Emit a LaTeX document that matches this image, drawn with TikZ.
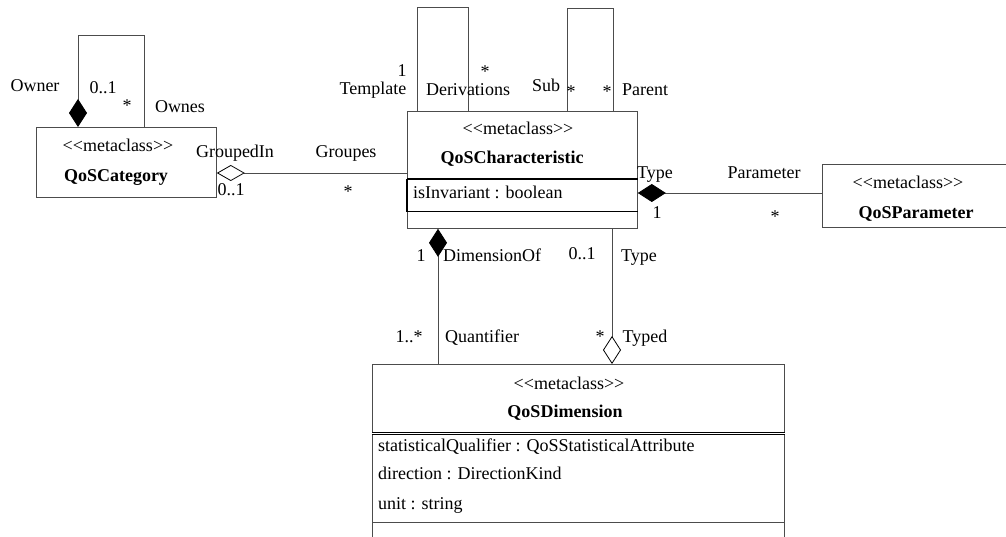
\documentclass[tikz,border=0pt]{standalone}
\usepackage{fontspec}
\setmainfont{Liberation Serif}
\usepackage{tikz}
\usetikzlibrary{arrows.meta,calc}

\definecolor{linegray}{gray}{0.3}
\newcommand{\umlfont}{\fontsize{18}{20}\selectfont}
\newcommand{\stereo}[1]{<\kern0pt<#1>\kern0pt>}

\tikzset{
  classbox/.style={draw=linegray, line width=0.8pt, anchor=north west, inner sep=0pt},
  lbl/.style={font=\umlfont, inner sep=0pt, text height=1.5ex, text depth=.25ex, yshift=-3.5pt},
  assoc/.style={draw=linegray, line width=0.8pt},
  compstart/.style={arrows={Diamond[length=28pt,width=18pt,color=black]-}},
  compend/.style={arrows={-Diamond[length=28pt,width=18pt,color=black]}},
  aggrstart/.style={arrows={Diamond[open,length=28pt,width=16pt,color=black]-}},
  aggrend/.style={arrows={-Diamond[open,length=28pt,width=18pt,color=black]}},
}

\begin{document}
\begin{tikzpicture}[x=1pt,y=-1pt]
      \useasboundingbox (0,0) rectangle (1006,537);
      \clip (0,0) rectangle (1006,537);

      % classes
      \node[classbox, minimum width=180pt, minimum height=70pt] (cat) at (36,127) {};
      \node[classbox, minimum width=230pt, minimum height=117pt] (char) at (407,111) {};
      \node[classbox, minimum width=220pt, minimum height=63pt] (par) at (822,164) {};
      \node[classbox, minimum width=412pt, minimum height=200pt] (dim) at (372,364) {};

      \node[lbl] (catst) at (118,145) {\stereo{metaclass}};
      \node[lbl, font=\umlfont\bfseries] (catnm) at (116,175) {QoSCategory};
      \node[lbl] (charst) at (518,128) {\stereo{metaclass}};
      \node[lbl, font=\umlfont\bfseries] (charnm) at (512,157) {QoSCharacteristic};
      \node[lbl, anchor=west] (charat) at (413,192) {isInvariant : boolean};
      \node[lbl] (parst) at (908,182) {\stereo{metaclass}};
      \node[lbl, font=\umlfont\bfseries] (parnm) at (916,212) {QoSParameter};
      \node[lbl] (dimst) at (569,383) {\stereo{metaclass}};
      \node[lbl, font=\umlfont\bfseries] (dimnm) at (565,411) {QoSDimension};
      \node[lbl, anchor=west] (dimat1) at (378,445) {statisticalQualifier : QoSStatisticalAttribute};
      \node[lbl, anchor=west] (dimat2) at (378,473) {direction : DirectionKind};
      \node[lbl, anchor=west] (dimat3) at (378,503) {unit : string};

      % compartments
      \draw[line width=1.6pt] (char.west |- 0,179) -- (char.east |- 0,179);
      \draw[line width=1pt] (char.west |- 0,212) -- (char.east |- 0,212);
      \draw[line width=1.4pt] (char.west |- 0,179) -- (char.west |- 0,212);
      \draw[draw=black, line width=0.6pt, double, double distance=1.8pt] (dim.west |- 0,433.5) -- (dim.east |- 0,433.5);
      \draw[assoc] (dim.west |- 0,522) -- (dim.east |- 0,522);

      % self associations
      \coordinate (ownloop) at (78,35);
      \coordinate (derloop) at (417,7);
      \coordinate (subloop) at (567,8);
      \draw[assoc, compend] (cat.north -| 144,0) |- (ownloop) -- (cat.north -| 78,0);
      \draw[assoc] (char.north -| 468,0) |- (derloop) -- (char.north -| 417,0);
      \draw[assoc] (char.north -| 613,0) |- (subloop) -- (char.north -| 567,0);

      % associations
      \draw[assoc, aggrstart] (cat.east |- 0,173) -- (char.west |- 0,173);
      \draw[assoc, compstart] (char.east |- 0,193) -- (par.west |- 0,193);
      \draw[assoc, compstart] (char.south -| 438,0) -- (dim.north -| 438,0);
      \draw[assoc, aggrend] (char.south -| 612,0) -- (dim.north -| 612,0);

      % role names and multiplicities
      \node[lbl] (l1) at (35,85) {Owner};
      \node[lbl] (l2) at (103,87) {0..1};
      \node[lbl] (l3) at (127,105) {*};
      \node[lbl] (l4) at (180,106) {Ownes};
      \node[lbl] (l5) at (235,151) {GroupedIn};
      \node[lbl] (l6) at (346,151) {Groupes};
      \node[lbl] (l7) at (231,189) {0..1};
      \node[lbl] (l8) at (348,191) {*};
      \node[lbl] (l9) at (402,70) {1};
      \node[lbl] (l10) at (373,88) {Template};
      \node[lbl] (l11) at (485,71) {*};
      \node[lbl] (l12) at (468,89) {Derivations};
      \node[lbl] (l13) at (546,85) {Sub};
      \node[lbl] (l14) at (571,91) {*};
      \node[lbl] (l15) at (607,91) {*};
      \node[lbl] (l16) at (645,89) {Parent};
      \node[lbl] (l17) at (655,172) {Type};
      \node[lbl] (l18) at (764,172) {Parameter};
      \node[lbl] (l19) at (657,212) {1};
      \node[lbl] (l20) at (775,216) {*};
      \node[lbl] (l21) at (421,255) {1};
      \node[lbl] (l22) at (492,255) {DimensionOf};
      \node[lbl] (l23) at (582,253) {0..1};
      \node[lbl] (l24) at (639,255) {Type};
      \node[lbl] (l25) at (409,336) {1..*};
      \node[lbl] (l26) at (482,336) {Quantifier};
      \node[lbl] (l27) at (600,336) {*};
      \node[lbl] (l28) at (645,336) {Typed};
    \end{tikzpicture}
\end{document}
